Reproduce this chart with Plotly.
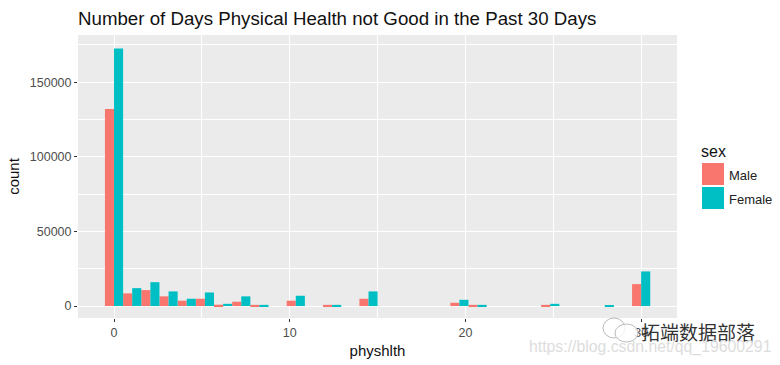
import plotly.graph_objects as go

bins = list(range(30))
bin_width = 30 / 29
male = [132000, 8500, 10700, 6500, 3600, 4900, 900, 2900, 800, 0, 3600, 0, 800, 0, 4900,
        0, 0, 0, 0, 2200, 800, 0, 0, 0, 800, 0, 0, 0, 0, 14700]
female = [172500, 12000, 16000, 9800, 4900, 9100, 1500, 6500, 800, 0, 6900, 0, 800, 0, 9800,
          0, 0, 0, 0, 4200, 800, 0, 0, 0, 1500, 0, 0, 600, 0, 23200]
centers = [b * bin_width for b in bins]
x_ticks = [0, 10, 20, 30]
y_ticks = [0, 50000, 100000, 150000]
RED, TEAL = "#F8766D", "#00BFC4"

fig = go.Figure()
fig.add_bar(x=centers, y=male, name="Male", width=bin_width / 2, offset=-bin_width / 2,
            marker=dict(color=RED, line_width=0))
fig.add_bar(x=centers, y=female, name="Female", width=bin_width / 2, offset=0,
            marker=dict(color=TEAL, line_width=0))

L, R, T, B = 78, 103, 35, 47
W, H = 780, 365
PW, PH = W - L - R, H - T - B
fx = lambda v: (v - L) / PW
fy = lambda v: (H - B - v) / PH

axis_font = dict(family="Liberation Sans", size=12.5, color="#4D4D4D")
fig.update_layout(
    width=W, height=H, margin=dict(l=L, r=R, t=T, b=B, pad=0, autoexpand=False),
    paper_bgcolor="white", plot_bgcolor="#EBEBEB", showlegend=False, barmode="overlay",
    font=dict(family="Liberation Sans", color="#111"),
    title=dict(text="Number of Days Physical Health not Good in the Past 30 Days",
               x=L / W, xref="container", xanchor="left", y=1 - 18 / H, yanchor="middle",
               font=dict(family="Liberation Sans", size=18.7, color="#111")),
)
fig.update_xaxes(range=[-2.05, 32.04], tickvals=x_ticks, ticks="outside", ticklen=3, tickwidth=1,
                 tickcolor="#333", tickfont=axis_font, gridcolor="white", gridwidth=1.3, zeroline=False,
                 showline=False,
                 minor=dict(tickvals=[5, 15, 25], showgrid=True, gridcolor="white", gridwidth=1.3, ticks=""),
                 title=dict(text="physhlth", font=dict(size=15, color="#111"), standoff=6))
fig.update_yaxes(range=[-8000, 181600], tickvals=y_ticks, ticks="outside", ticklen=3, tickwidth=1,
                 tickcolor="#333", tickfont=axis_font, gridcolor="white", gridwidth=1.3, zeroline=False,
                 showline=False, tickformat="d",
                 minor=dict(tickvals=[25000, 75000, 125000, 175000], showgrid=True, gridcolor="white",
                            gridwidth=0.8, ticks=""),
                 title=dict(text="count", font=dict(size=15, color="#111"), standoff=6))

# legend
for top, col, label in [(163, RED, "Male"), (187, TEAL, "Female")]:
    fig.add_shape(type="rect", xref="paper", yref="paper", x0=fx(702), x1=fx(724),
                  y0=fy(top + 22), y1=fy(top), fillcolor=col, line_width=0)
    fig.add_annotation(xref="paper", yref="paper", x=fx(727), y=fy(top + 12),
                       text=label, showarrow=False, xanchor="left", yanchor="middle",
                       font=dict(family="Liberation Sans", size=13, color="#222"))
fig.add_annotation(xref="paper", yref="paper", x=fx(699), y=fy(151),
                   text="sex", showarrow=False, xanchor="left", yanchor="middle",
                   font=dict(family="Liberation Sans", size=16, color="#111"))

# watermark
for x0, y0, x1, y1 in [(603, 318, 625, 338), (615, 324, 638, 342)]:
    fig.add_shape(type="circle", xref="paper", yref="paper", layer="above",
                  x0=fx(x0), x1=fx(x1), y0=fy(y1), y1=fy(y0),
                  fillcolor="rgba(255,255,255,0.8)", line=dict(color="#BBBBBB", width=1))
fig.add_annotation(xref="paper", yref="paper", x=fx(639), y=fy(331),
                   text="拓端数据部落", showarrow=False, xanchor="left", yanchor="middle",
                   font=dict(family="Noto Sans CJK SC", size=19, color="#333"))
fig.add_annotation(xref="paper", yref="paper", x=fx(527), y=fy(347),
                   text="https://blog.csdn.net/qq_19600291", showarrow=False, xanchor="left", yanchor="middle",
                   font=dict(family="Liberation Sans", size=15.8, color="#DDDDDD"))

fig.write_html("out.html", config=dict(displayModeBar=False),
               post_script="document.body.style.margin='0';")
